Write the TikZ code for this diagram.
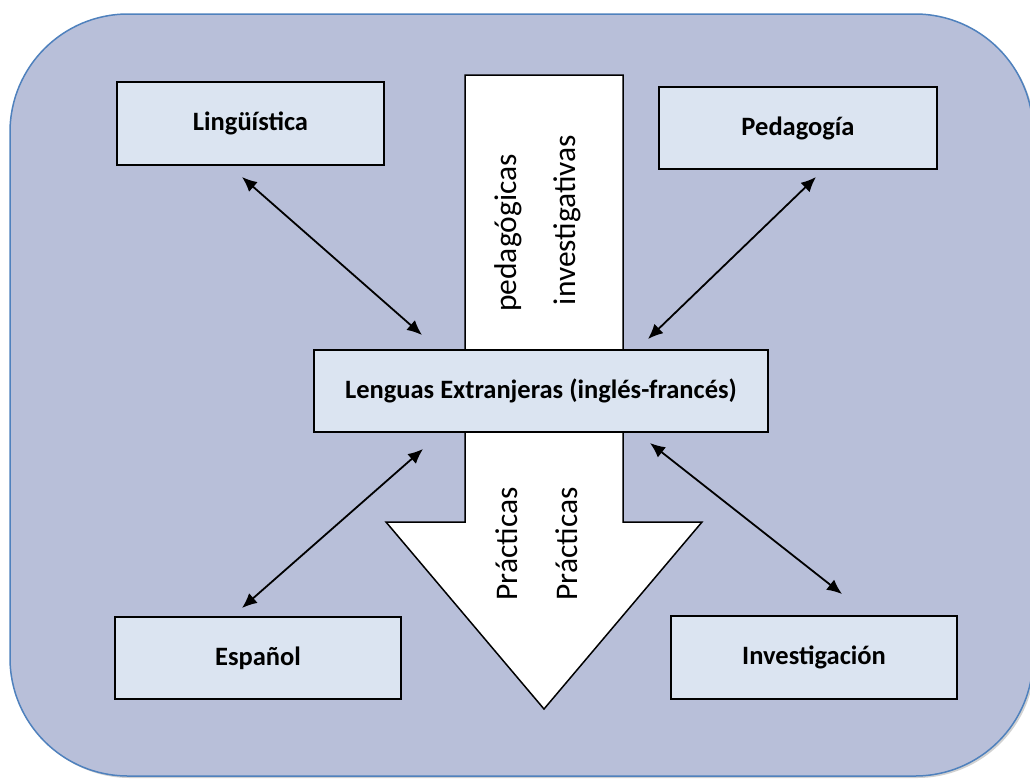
\documentclass[tikz,border=0pt]{standalone}
\usepackage{fontspec}
\setmainfont{Carlito}
\usetikzlibrary{arrows.meta}
\definecolor{bgfill}{RGB}{184,191,217}
\definecolor{bgline}{RGB}{79,129,189}
\definecolor{boxfill}{RGB}{219,228,241}
\tikzset{
  topic/.style={draw=black, line width=1.8pt, fill=boxfill, font=\bfseries\fontsize{26.5}{30}\selectfont, inner sep=0pt},
  vlabel/.style={rotate=90, font=\fontsize{31.5}{36}\selectfont, inner sep=0pt},
  link/.style={line width=1.8pt, {Latex[length=15pt,width=13pt]}-{Latex[length=15pt,width=13pt]}}
}
\begin{document}
\begin{tikzpicture}[x=1pt,y=-1pt]
\useasboundingbox (0,0) rectangle (1030,780);
% background panel
\fill[black!18, rounded corners=118pt] (12,16) rectangle (1035,778);
\draw[bgline, line width=1.5pt, fill=bgfill, rounded corners=118pt] (10,14) rectangle (1033,776);
% big arrow
\draw[line width=1.5pt, fill=white] (465,75) -- (623,75) -- (623,522) -- (702,522) -- (544,709) -- (386,522) -- (465,522) -- cycle;
\node[vlabel] (ped) at (508,233) {pedagógicas};
\node[vlabel] (inv) at (567,220) {investigativas};
\node[vlabel] (pr1) at (507,544) {Prácticas};
\node[vlabel] (pr2) at (567,544) {Prácticas};
% boxes
\node[topic, minimum width=267pt, minimum height=83pt] (ling) at (250.5,123.5) {Lingüística};
\node[topic, minimum width=278pt, minimum height=82pt] (peda) at (798,128) {Pedagogía};
\node[topic, minimum width=454pt, minimum height=82pt] (leng) at (541,391) {Lenguas Extranjeras (inglés-francés)};
\node[topic, minimum width=286pt, minimum height=82pt] (esp) at (258,658) {Español};
\node[topic, minimum width=286pt, minimum height=83pt] (inve) at (814,657.5) {Investigación};
% connector ends
\coordinate (a1) at (242,177); \coordinate (b1) at (422,335);
\coordinate (a2) at (816,177); \coordinate (b2) at (648,339);
\coordinate (a3) at (242,608); \coordinate (b3) at (423,449);
\coordinate (a4) at (842,594); \coordinate (b4) at (650,443);
\draw[link] (a1) -- (b1);
\draw[link] (a2) -- (b2);
\draw[link] (a3) -- (b3);
\draw[link] (a4) -- (b4);
\end{tikzpicture}
\end{document}
